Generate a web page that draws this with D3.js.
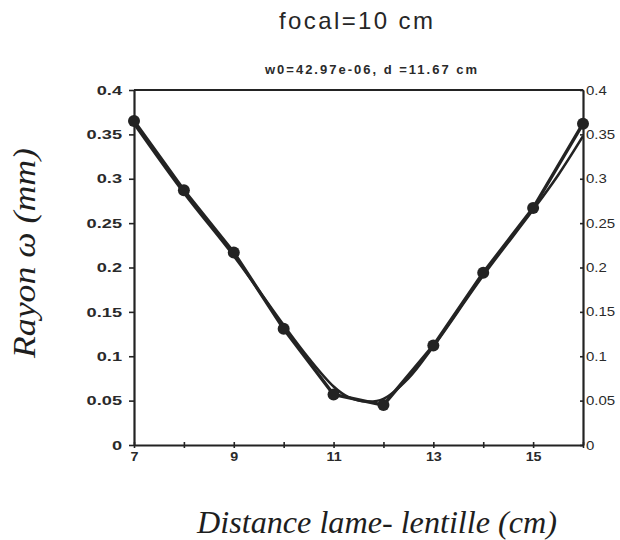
<!DOCTYPE html>
<html><head><meta charset="utf-8">
<script src="https://cdn.jsdelivr.net/npm/d3@7"></script>
<style>body{margin:0;background:#fff}svg{display:block}</style>
</head><body>
<svg id="c" width="620" height="540"></svg>
<script>
const distances = [7, 8, 9, 10, 11, 12, 13, 14, 15, 16];
const rayon = [0.365, 0.287, 0.217, 0.131, 0.057, 0.045, 0.112, 0.194, 0.267, 0.362];
const fitX = [7, 8, 9, 10, 10.5, 11, 11.3, 11.67, 12, 12.5, 13, 14, 15, 15.5, 16];
const fitY = [0.362, 0.284, 0.213, 0.135, 0.098, 0.066, 0.054, 0.049, 0.052, 0.075, 0.111, 0.191, 0.265, 0.304, 0.348];
const xTicks = [7, 8, 9, 10, 11, 12, 13, 14, 15, 16];
const xTickLabels = ["7", "", "9", "", "11", "", "13", "", "15", ""];
const yTicks = [0, 0.05, 0.1, 0.15, 0.2, 0.25, 0.3, 0.35, 0.4];
const yTickLabels = ["0", "0.05", "0.1", "0.15", "0.2", "0.25", "0.3", "0.35", "0.4"];

const svg = d3.select("#c");
const ink = "#232323";
const sans = "Liberation Sans, Arial, sans-serif";
const serif = "Liberation Serif, Times New Roman, serif";
const L = 134, R = 583, T = 90, B = 445;
const x = d3.scaleLinear().domain([7, 16]).range([L, R]);
const y = d3.scaleLinear().domain([0, 0.4]).range([B, T]);

// titles
svg.append("text").attr("x", 356).attr("y", 29).attr("text-anchor", "middle")
  .attr("font-family", sans).attr("font-size", 24)
  .attr("fill", "#262626").attr("textLength", 154).attr("lengthAdjust", "spacing").text("focal=10 cm");
svg.append("text").attr("x", 371).attr("y", 74).attr("text-anchor", "middle")
  .attr("font-family", sans).attr("font-size", 13).attr("font-weight", "bold")
  .attr("fill", "#2a2a2a").attr("textLength", 212).attr("lengthAdjust", "spacing").text("w0=42.97e-06, d =11.67 cm");

// frame top
svg.append("line").attr("x1", L).attr("x2", R).attr("y1", T).attr("y2", T)
  .attr("stroke", ink).attr("stroke-width", 2);

function styleAxis(g) {
  g.selectAll("path.domain").attr("stroke", ink).attr("stroke-width", 2.2);
  g.selectAll(".tick line").attr("stroke", ink).attr("stroke-width", 1.6);
  g.selectAll(".tick text").attr("fill", "#2a2a2a")
    .attr("font-family", sans).attr("font-size", 13).attr("font-weight", "bold");
}

const yFmt = d => yTickLabels[yTicks.indexOf(d)];
const gl = svg.append("g").attr("transform", `translate(${L},0)`)
  .call(d3.axisLeft(y).tickValues(yTicks).tickFormat(yFmt).tickSize(5).tickSizeOuter(0).tickPadding(4));
styleAxis(gl);
gl.selectAll(".tick text").attr("x", 0).attr("transform", "translate(-12,0) scale(1.4,1)");

const gr = svg.append("g").attr("transform", `translate(${R},0)`)
  .call(d3.axisRight(y).tickValues(yTicks).tickFormat(yFmt).tickSize(0).tickSizeOuter(0).tickPadding(3));
styleAxis(gr);
gr.selectAll(".tick line").attr("x1", -3).attr("x2", 1);
gr.selectAll(".tick text").attr("x", 0).attr("font-size", 12.5).attr("font-weight", "normal")
  .attr("transform", "translate(3,0) scale(1.2,1)");

const gb = svg.append("g").attr("transform", `translate(0,${B})`)
  .call(d3.axisBottom(x).tickValues(xTicks).tickFormat(d => xTickLabels[xTicks.indexOf(d)]).tickSize(3).tickSizeOuter(0).tickPadding(4));
styleAxis(gb);
gb.selectAll(".tick line").attr("y1", -3);
gb.selectAll(".tick text").attr("font-size", 13).attr("transform", "scale(1.1,1)");

// fit curve
svg.append("path").datum(fitX.map((v, i) => [v, fitY[i]]))
  .attr("fill", "none").attr("stroke", ink).attr("stroke-width", 2.6)
  .attr("d", d3.line().x(d => x(d[0])).y(d => y(d[1])).curve(d3.curveCatmullRom));

// data line
svg.append("path").datum(distances.map((v, i) => [v, rayon[i]]))
  .attr("fill", "none").attr("stroke", ink).attr("stroke-width", 3.4)
  .attr("d", d3.line().x(d => x(d[0])).y(d => y(d[1])));

svg.append("g").selectAll("circle").data(distances).join("circle")
  .attr("cx", d => x(d)).attr("cy", (d, i) => y(rayon[i])).attr("r", 6).attr("fill", ink);

// axis titles
svg.append("text").attr("x", 377).attr("y", 533).attr("text-anchor", "middle")
  .attr("font-family", serif).attr("font-style", "italic").attr("font-size", 31)
  .attr("fill", "#1e1e1e").attr("textLength", 360).attr("lengthAdjust", "spacingAndGlyphs").text("Distance lame- lentille (cm)");
svg.append("text").attr("transform", "translate(35,253) rotate(-90)").attr("text-anchor", "middle")
  .attr("font-family", serif).attr("font-style", "italic").attr("font-size", 31)
  .attr("fill", "#1e1e1e").attr("textLength", 210).attr("lengthAdjust", "spacingAndGlyphs").text("Rayon ω (mm)");
</script>
</body></html>
